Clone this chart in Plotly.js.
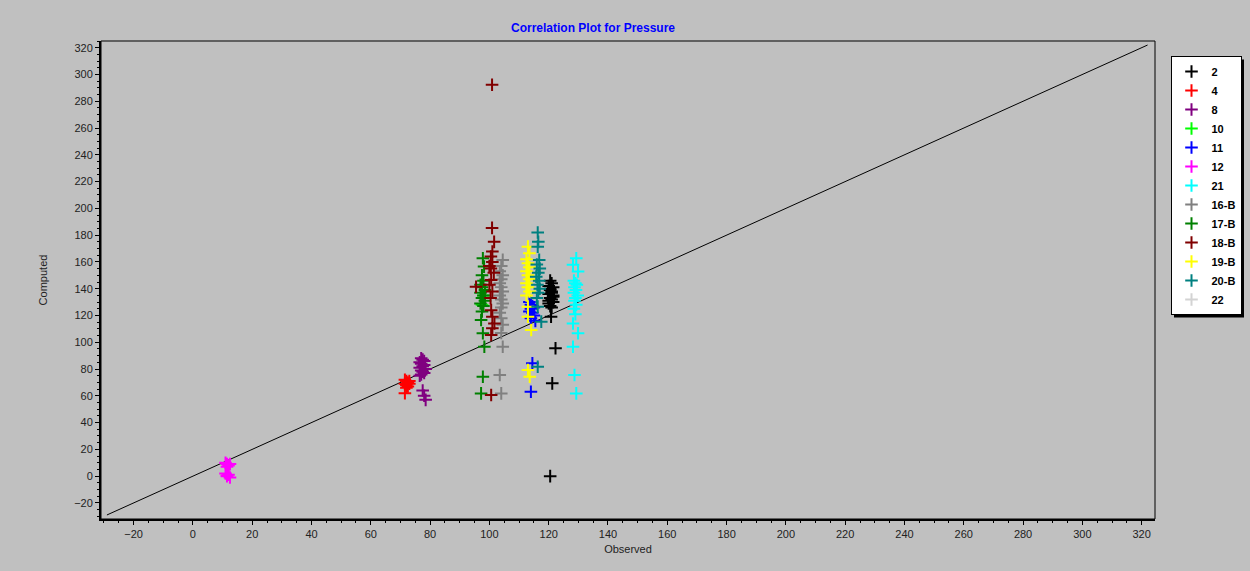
<!DOCTYPE html>
<html>
<head>
<meta charset="utf-8">
<script src="https://cdn.plot.ly/plotly-3.0.1.min.js"></script>
<style>html,body{margin:0;padding:0;background:#c0c0c0;}#chart{width:1250px;height:571px;}</style>
</head>
<body>
<div id="chart"></div>
<script>
// ---- data ----
const seriesNames = ["2","4","8","10","11","12","21","16-B","17-B","18-B","19-B","20-B","22"];
const seriesColors = ["#000000","#ff0000","#800080","#00ff00","#0000ff","#ff00ff","#00ffff","#808080","#008000","#800000","#ffff00","#008080","#d3d3d3"];

const x_2 = [120.5,121,120,121.5,120.5,121,120,121.5,120.5,121,121.5,120,120.5,121,120.5,121,121.5,120,120.8,122.3,121.2,120.5];
const y_2 = [146,144,142,141,139,138,136,135,133,132,130,129,127,126,140,137,134,131,119,95.5,69.3,0];

const x_4 = [71.5,72,72.5,73,71.5,72,73,72,71.5,72.5];
const y_4 = [72,71,70,71,69,68,69,66,62,67];

const x_8 = [77,77.5,78,76.5,77,78,77.5,76.5,78.5,77,77.5,78,77,76.5,77.5,78.5,78];
const y_8 = [88,87,86,85,84,83,82,81,80,79,78,77,76,75,64,57,60];

const x_10 = [98,97.5];
const y_10 = [135,128];

const x_11 = [113.5,114,114.5,115,114,113.5,114.5,115,114,115.5,114.5,114];
const y_11 = [130,128,127,126,125,123,122,120,118,116,84.3,63];

const x_12 = [11,11.5,12,12.5,11.5,11,12,11.5,12.5,11.5];
const y_12 = [10,9,8,9,7,2,1,0,-1,0.5];

const x_21 = [129.3,128.2,129.9,128.5,129,129.5,128.7,129.2,128.5,129.8,129,128.7,129.3,128.5,129,128.2,129.9,128.2,128.7,129.3];
const y_21 = [162.8,157.8,152.8,146,144,143,141,139,137,135,133,131,128,125,121,114,106.7,96.7,75.5,61.8];

const x_16B = [104.5,104,103.5,104.5,104,103.5,104,104.5,103.5,104,104.5,104,103.5,104,104.5,104,104.5,103.5,104];
const y_16B = [161.5,157,153,150,147,144,141,138,135,132,129,126,122,118,113,107,96.7,75.5,61.8];

const x_17B = [97.8,98.2,97.5,98,97,97.5,98.5,97,98,97.5,98.5,97,98,97.5,97.2,97.8,98.3,97.8,97.2];
const y_17B = [162.7,156.5,150,146,143,141,139,137,135,133,131,129,127,123,116.6,106.7,96.7,74.2,61.8];

const x_18B = [100.9,101.6,101,100.5,101,100,100.5,101.5,95.5,100.6,100,101,100.4,100.6,101,101.7,101,100.6,100.6,100.9];
const y_18B = [185.4,175,167.7,164,160,157,155,152,141.5,146.5,143,138,133,124,119,114,110.4,105.4,60.6,292.3];

const x_19B = [113,113.5,112.5,113,113.5,112.5,113,113.5,112.5,113,113.5,112.5,113,113,114.1,113,113.6];
const y_19B = [171.4,166.4,162,159,156,153,150,147,144,141,138,135,126.6,119,109.2,79.3,74.2];

const x_20B = [116.3,116.5,116.3,116.8,116,117,116.5,115.8,116.8,116.2,117,116.5,116,116.3,117.5,116.3];
const y_20B = [182,175,171.4,161.5,158,155,152,149,146,143,140,137,133,126.6,115.4,81.7];

// series 22 is hidden beneath the 16-B column in the reference
const x_22 = [104];
const y_22 = [140];

const lineX = [-29,322];
const lineY = [-29,322];

const xs = [x_2,x_4,x_8,x_10,x_11,x_12,x_21,x_16B,x_17B,x_18B,x_19B,x_20B,x_22];
const ys = [y_2,y_4,y_8,y_10,y_11,y_12,y_21,y_16B,y_17B,y_18B,y_19B,y_20B,y_22];

const FONT = "Liberation Sans, Arial, sans-serif";

const traces = [{
  x: lineX, y: lineY, mode: "lines", type: "scatter",
  line: {color: "#000000", width: 1}, showlegend: false, hoverinfo: "skip"
}];
// draw "22" first (underneath) but keep it last in the legend
const drawOrder = [12,0,1,2,3,4,5,6,7,8,9,10,11];
drawOrder.forEach((i) => {
  traces.push({
    x: xs[i], y: ys[i], name: seriesNames[i], type: "scatter", mode: "markers",
    legendrank: i + 1,
    marker: {symbol: "cross-thin-open", size: 9, color: seriesColors[i],
             line: {color: seriesColors[i], width: 2}}
  });
});

const layout = {
  width: 1250, height: 571,
  paper_bgcolor: "#c0c0c0", plot_bgcolor: "#c0c0c0",
  margin: {l: 101, r: 95, t: 41, b: 52},
  font: {family: FONT, size: 11, color: "#222222"},
  title: {text: "<b>Correlation Plot for Pressure</b>", font: {family: FONT, size: 12, color: "#0000ff"},
          x: 593 / 1250, xanchor: "center", xref: "container", y: 0.951, yanchor: "middle"},
  xaxis: {
    range: [-31, 324.5], tick0: 0, dtick: 20, ticks: "outside", ticklen: 4, tickcolor: "#000",
    showgrid: false, zeroline: false, showline: true, linecolor: "#000", linewidth: 2,
    minor: {dtick: 5, ticks: "outside", ticklen: 2, tickcolor: "#000", showgrid: false},
    tickfont: {family: FONT, size: 11, color: "#222"},
    title: {text: "Observed", font: {family: FONT, size: 11, color: "#222"}, standoff: 6}
  },
  yaxis: {
    range: [-32, 325], tick0: 0, dtick: 20, ticks: "outside", ticklen: 4, tickcolor: "#000",
    showgrid: false, zeroline: false, showline: true, linecolor: "#000", linewidth: 2,
    minor: {dtick: 5, ticks: "outside", ticklen: 2, tickcolor: "#000", showgrid: false},
    tickfont: {family: FONT, size: 11, color: "#222"},
    title: {text: "Computed", font: {family: FONT, size: 11, color: "#222"}, standoff: 24}
  },
  legend: {
    x: 1206 / 1250, xref: "container", xanchor: "center", y: 0.9686, yanchor: "top",
    bgcolor: "#ffffff", bordercolor: "#000000", borderwidth: 1,
    font: {family: FONT, size: 11, color: "#000", weight: "bold"}, itemwidth: 30, tracegroupgap: 0
  },
  shapes: [
    {type: "rect", xref: "paper", yref: "paper", x0: 0, x1: 1, y0: 0, y1: 1,
     line: {color: "#000", width: 1}, fillcolor: "rgba(0,0,0,0)"}
  ]
};

Plotly.newPlot("chart", traces, layout, {displayModeBar: false, staticPlot: true}).then(function (gd) {
  // add a drop shadow behind the legend, like the reference
  const bg = gd.querySelector(".legend .bg");
  if (!bg) return;
  const r = bg.getBoundingClientRect();
  const c = gd.getBoundingClientRect();
  const fs = gd._fullLayout._size;
  const toX = (px) => (px - c.left - fs.l) / fs.w;
  const toY = (py) => 1 - (py - c.top - fs.t) / fs.h;
  Plotly.relayout(gd, {
    "shapes[1]": {type: "rect", xref: "paper", yref: "paper", layer: "above",
      x0: toX(r.left + 3), x1: toX(r.right + 3), y0: toY(r.bottom + 3), y1: toY(r.top + 3),
      line: {width: 0}, fillcolor: "#000000"}
  });
});
</script>
</body>
</html>
